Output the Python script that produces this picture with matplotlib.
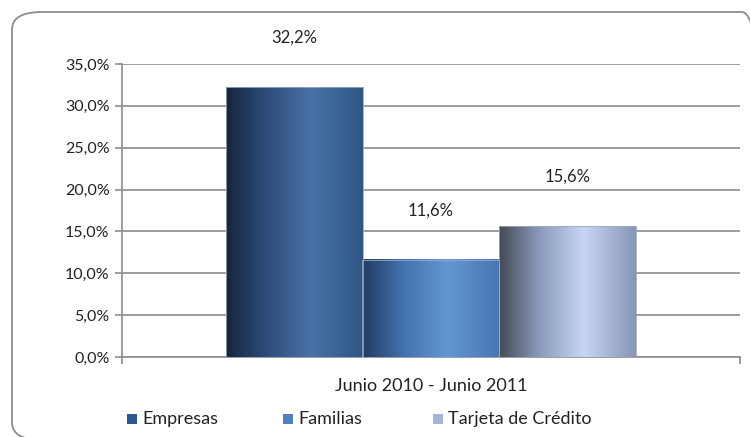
import matplotlib.pyplot as plt
import numpy as np
from matplotlib.colors import LinearSegmentedColormap
from matplotlib.patches import FancyBboxPatch, Rectangle
from matplotlib.ticker import FuncFormatter

plt.rcParams["font.family"] = ["Lato", "DejaVu Sans"]

series = ["Empresas", "Familias", "Tarjeta de Crédito"]
values = [32.2, 11.6, 15.6]
category = "Junio 2010 - Junio 2011"
yticks = [0, 5, 10, 15, 20, 25, 30, 35]

# gradient stops per bar (left -> highlight -> right)
grads = [
    ["#17253d", "#2d4d7c", "#4a72a6", "#2f5587"],
    ["#233a5f", "#4272b0", "#6397d4", "#4677b4"],
    ["#454a55", "#8c9bbd", "#c6d6f2", "#8795b6"],
]
legend_colors = ["#2e568f", "#4f81bd", "#a7b6d8"]
legend_x = [127, 283, 433]  # pixel x of legend squares

W, H = 750, 437
fig = plt.figure(figsize=(7.5, 4.37), dpi=100, facecolor="white")

# rounded chart border
border = FancyBboxPatch((12 / W, 1 - 440 / H), 760 / W, 428 / H,
                        boxstyle="round,pad=0,rounding_size=0.04",
                        transform=fig.transFigure, facecolor="none",
                        edgecolor="#8c8c8c", linewidth=1.3, clip_on=False)
fig.patches.append(border)

ax = fig.add_axes([122 / W, 1 - 357 / H, 618 / W, 293 / H])
width = 137 / 618
xs = [0.5 - width, 0.5, 0.5 + width]

for x, v, g in zip(xs, values, grads):
    cmap = LinearSegmentedColormap.from_list("g", list(zip([0, 0.3, 0.62, 1], g)))
    grad = np.linspace(0, 1, 256).reshape(1, -1)
    ax.imshow(grad, cmap=cmap, aspect="auto", extent=(x - width / 2, x + width / 2, 0, v),
              zorder=3, interpolation="bilinear")
    ax.add_patch(Rectangle((x - width / 2, 0), width, v, facecolor="none",
                           edgecolor="#9aa8c0", linewidth=0.6, zorder=4))
    ax.text(x, v + 5.9, f"{v:.1f}%".replace(".", ","), ha="center", va="center",
            fontsize=12, color="#222222", clip_on=False)

ax.set_xlim(0, 1)
ax.set_ylim(0, 35)
ax.set_yticks(yticks)
ax.yaxis.set_major_formatter(FuncFormatter(lambda v, p: f"{v:.1f}%".replace(".", ",")))
ax.set_xticks([0, 1])
ax.set_xticklabels([])
ax.tick_params(axis="y", length=5, color="#8c8c8c", width=1.2, labelsize=11.5,
               labelcolor="#222222", pad=4)
ax.tick_params(axis="x", length=5, color="#8c8c8c", width=1.2)
ax.grid(axis="y", color="#8c8c8c", linewidth=1.2, zorder=0)
ax.set_axisbelow(True)
for s in ["top", "right"]:
    ax.spines[s].set_visible(False)
for s in ["left", "bottom"]:
    ax.spines[s].set_color("#8c8c8c")
    ax.spines[s].set_linewidth(1.2)

fig.text(431 / W, 1 - 386 / H, category, ha="center", va="center",
         fontsize=13, color="#222222")

# legend drawn as in the Excel original (fixed column slots)
for px, c, name in zip(legend_x, legend_colors, series):
    fig.patches.append(Rectangle((px / W, 1 - 424 / H), 10 / W, 10 / H,
                                 transform=fig.transFigure, facecolor=c, edgecolor="none"))
    fig.text((px + 15) / W, 1 - 419 / H, name, ha="left", va="center",
             fontsize=13, color="#222222")

fig.savefig("out.png", dpi=100, facecolor="white")
